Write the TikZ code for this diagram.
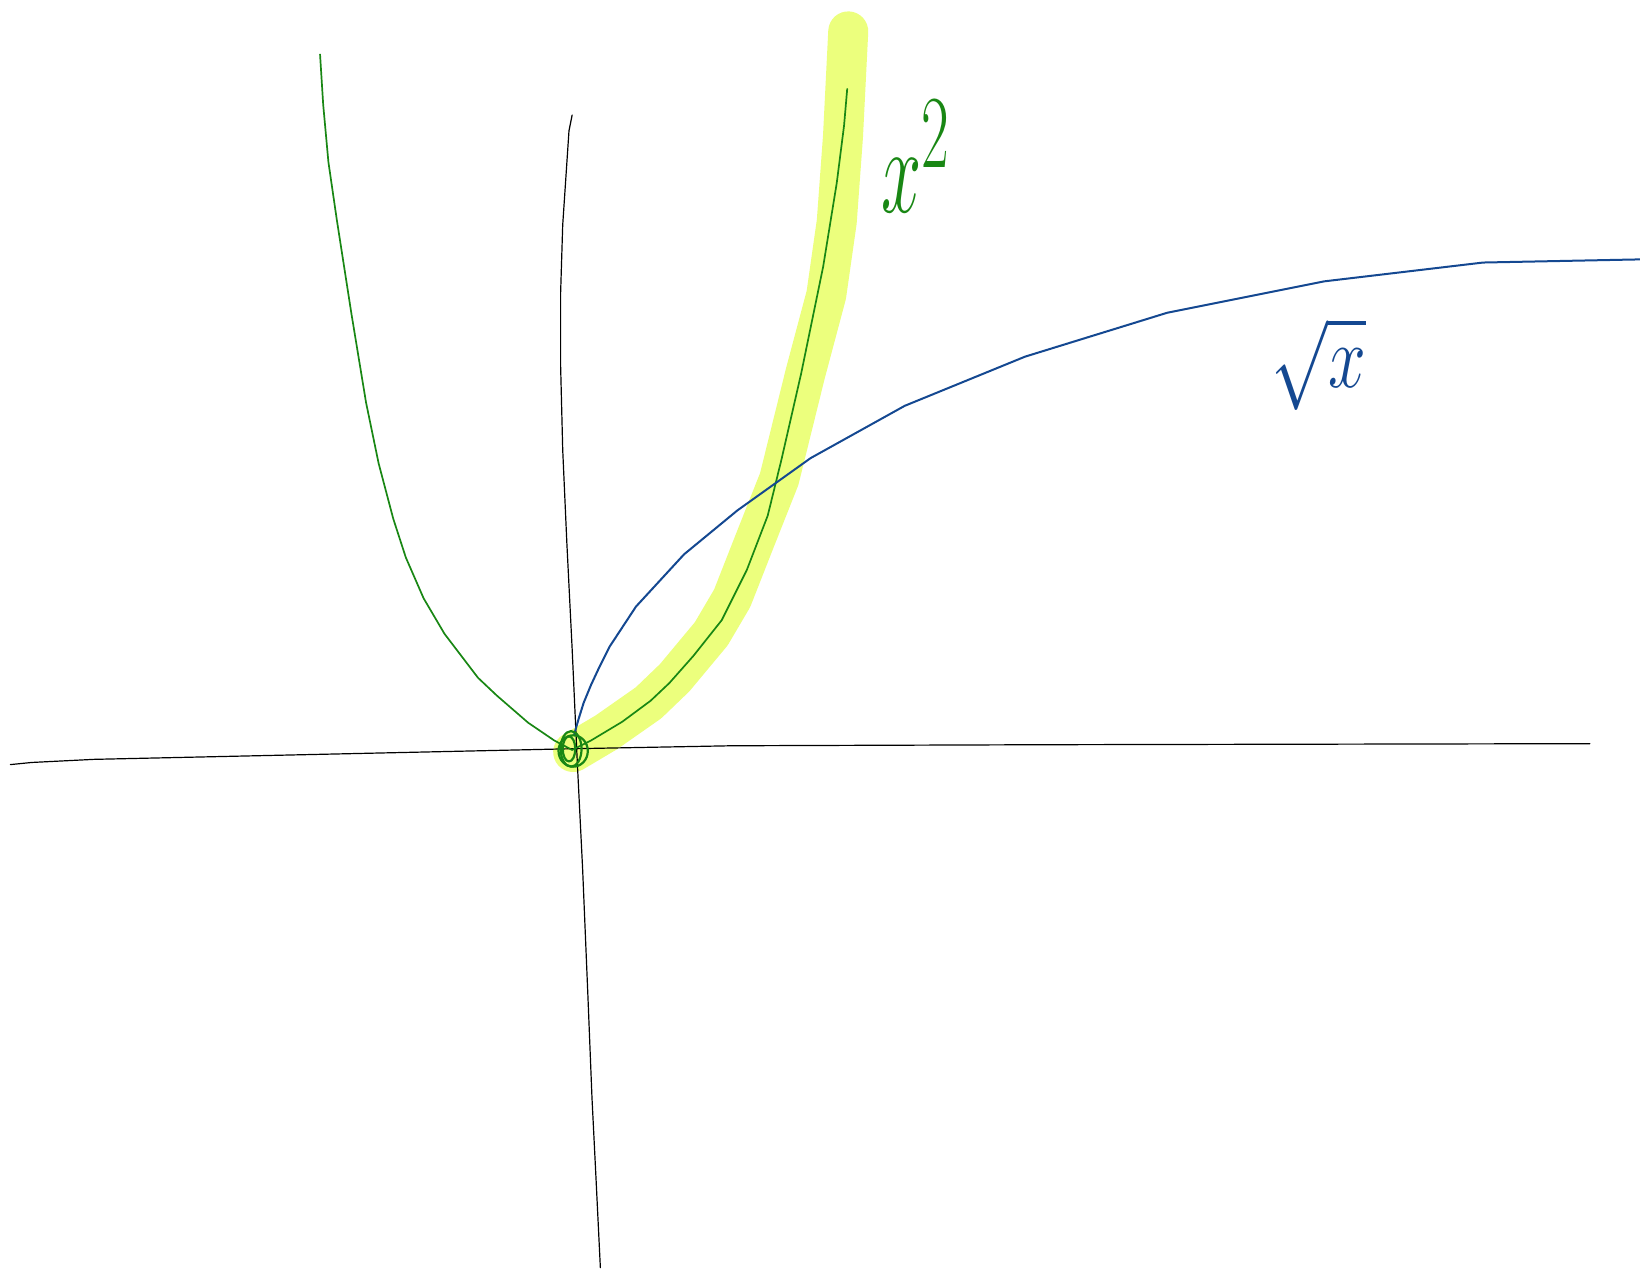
\documentclass[tikz,border=0pt]{standalone}
\begin{document}
\begin{tikzpicture}[x=0.52296pt,y=-0.52296pt,
  axis/.style={black,line width=0.6pt,line join=round,line cap=round},
  grn/.style={draw=penG,line width=0.85pt,line join=round,line cap=round},
  blu/.style={draw=penB,line width=1pt,line join=round,line cap=round},
  hilite/.style={draw=hiY,line width=20pt,line join=round,line cap=round},
  lbl/.style={inner sep=0pt,outer sep=0pt}]
\definecolor{penG}{RGB}{25,135,20}
\definecolor{penB}{RGB}{20,72,145}
\definecolor{hiY}{RGB}{236,255,125}
\useasboundingbox[fill=white] (0,0) rectangle (1568,1215);
% highlighter
\draw[hilite] (548,719) -- (580,700) -- (620,672) -- (645,648) -- (680,606) -- (700,572) -- (722,516) -- (745,458) -- (770,357) -- (790,282) -- (800,212) -- (806,130) -- (811,30);
% axes
\draw[axis] (10,731) -- (30,729) -- (90,726) -- (270,722) -- (540,716) -- (700,713) -- (1000,712) -- (1520,711);
\draw[axis] (547,110) -- (544,125) -- (538,215) -- (536,280) -- (536,350) -- (538,430) -- (542,520) -- (547,620) -- (552,730) -- (557,830) -- (562,950) -- (566,1050) -- (570,1130) -- (574,1212);
% left branch of x^2
\draw[grn] (306,52) -- (309,100) -- (314,155) -- (322,210) -- (336,300) -- (350,385) -- (362,443) -- (376,496) -- (388,533) -- (405,572) -- (425,606) -- (457,648) -- (475,665) -- (505,691) -- (530,708) -- (547,717);
% right branch of x^2
\draw[grn] (547,717) -- (565,708) -- (595,690) -- (622,670) -- (640,653) -- (663,627) -- (690,593) -- (714,545) -- (734,493) -- (747,440) -- (766,357) -- (787,255) -- (800,175) -- (807,120) -- (810,85);
% sqrt x
\draw[blu] (549,702) -- (553,688) -- (558,672) -- (565,655) -- (572,640) -- (583,618) -- (608,580) -- (654,530) -- (705,488) -- (775,438) -- (865,388) -- (980,341) -- (1116,299) -- (1266,269) -- (1418,251) -- (1568,248);
% origin scribble
\draw[grn,line width=1.1pt] (546,716) ellipse [x radius=10, y radius=17];
\draw[grn,line width=1.1pt] (548,718) ellipse [x radius=14, y radius=15];
\draw[grn,line width=1.1pt] (544,716) ellipse [x radius=6, y radius=12];
% labels
\node[lbl,text=penG,xscale=1.45,yscale=2.5] (lx2) at (876,150) {\fontsize{24.88}{26}\selectfont$x^2$};
\node[lbl,text=penB,xscale=1.36,yscale=1.8] (lsx) at (1261,348) {\fontsize{24.88}{26}\selectfont$\sqrt{x}$};
\end{tikzpicture}
\end{document}
